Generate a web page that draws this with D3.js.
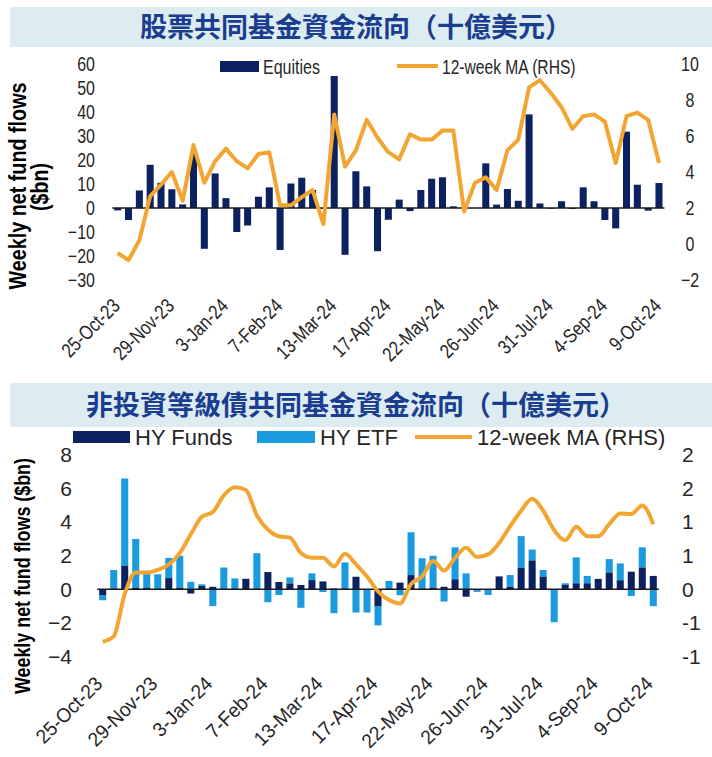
<!DOCTYPE html>
<html><head><meta charset="utf-8">
<script src="https://cdn.jsdelivr.net/npm/d3@7"></script>
<style>body{margin:0;background:#fff}svg{display:block}</style>
</head><body><svg id="c" width="712" height="757"></svg>
<script>
const weeks = ["25-Oct-23","1-Nov-23","8-Nov-23","15-Nov-23","22-Nov-23","29-Nov-23","6-Dec-23","13-Dec-23","20-Dec-23","27-Dec-23",
"3-Jan-24","10-Jan-24","17-Jan-24","24-Jan-24","31-Jan-24","7-Feb-24","14-Feb-24","21-Feb-24","28-Feb-24","6-Mar-24",
"13-Mar-24","20-Mar-24","27-Mar-24","3-Apr-24","10-Apr-24","17-Apr-24","24-Apr-24","1-May-24","8-May-24","15-May-24",
"22-May-24","29-May-24","5-Jun-24","12-Jun-24","19-Jun-24","26-Jun-24","3-Jul-24","10-Jul-24","17-Jul-24","24-Jul-24",
"31-Jul-24","7-Aug-24","14-Aug-24","21-Aug-24","28-Aug-24","4-Sep-24","11-Sep-24","18-Sep-24","25-Sep-24","2-Oct-24","9-Oct-24"];
const tickWeeks = ["25-Oct-23","29-Nov-23","3-Jan-24","7-Feb-24","13-Mar-24","17-Apr-24","22-May-24","26-Jun-24","31-Jul-24","4-Sep-24","9-Oct-24"];

const equities = [-1,-5,7.3,18,10.5,7.8,1.5,22.6,-17,14.4,4.1,-10,-7.3,4.7,8.6,-17.5,10.2,12.6,7.5,-0.3,
55,-19.5,15.3,9,-18,-4.9,3.5,-1.3,7.5,12.2,12.8,0.7,0.2,0,18.6,1.4,7.9,3,39,1.9,
-0.3,2.8,-0.4,8.6,2.8,-5,-8.5,31.8,9.7,-1.1,10.4];
const equitiesMA = [-0.5,-0.9,0.21,2.66,3.3,4.0,2.4,5.5,3.4,4.6,5.3,4.6,4.2,5.0,5.1,2.15,2.15,2.6,3.0,1.1,
7.2,4.3,5.2,6.9,5.9,5.1,4.7,6.1,5.8,5.8,6.3,6.3,1.8,3.4,3.7,3.0,5.2,5.8,8.7,9.1,
8.4,7.6,6.4,7.1,7.2,6.8,4.5,7.1,7.3,6.9,4.5];

const hyFunds = [-0.35,0.05,1.4,0.1,0.1,0,0.67,0.1,-0.25,0.2,0.15,0.05,0.05,0.63,0.05,1.03,0.44,0.35,0.26,0.55,
0.47,0.05,0.05,0.75,0,-1.0,0.05,0.4,0.85,0.05,0.1,0.15,0.6,-0.44,-0.05,0,0.77,0.15,1.27,1.72,
0.75,0,0.26,0.36,0.36,0.62,1.0,0.54,1.05,1.3,0.8];
const hyETF = [-0.3,1.1,5.2,2.9,1.0,0.9,1.2,1.9,0.45,0.1,-1.0,1.25,0.6,0,2.1,-0.77,-0.34,0.36,-1.1,0.4,
-0.16,-1.42,1.55,-1.38,-1.38,-1.15,0.45,-0.35,2.55,1.8,1.9,-0.73,1.9,0.95,-0.1,-0.34,0,0.7,1.9,0.65,
0.4,-1.96,0.1,1.54,0.44,0,0.8,1.0,-0.4,1.2,-1.0];
const hyMA = [-0.78,-0.70,-0.07,0.25,0.25,0.29,0.37,0.54,0.82,1.08,1.15,1.4,1.52,1.48,1.1,0.89,0.79,0.77,0.54,0.47,
0.47,0.34,0.53,0.37,0.19,-0.03,-0.16,-0.21,0.08,0.19,0.42,0.28,0.47,0.62,0.48,0.52,0.69,0.94,1.17,1.35,
1.17,0.88,0.73,0.93,0.79,0.79,0.97,1.13,1.12,1.25,0.97];

const eqLeftTicks = [60,50,40,30,20,10,0,-10,-20,-30];
const eqRightTicks = [10,8,6,4,2,0,-2];
const hyLeftTicks = [8,6,4,2,0,-2,-4];
const hyRightTickValues = [2,1.5,1,0.5,0,-0.5,-1];
const hyRightTickLabels = ["2","2","1","1","0","-1","-1"];

const titleTop = "股票共同基金資金流向（十億美元）";
const titleBottom = "非投資等級債共同基金資金流向（十億美元）";
const yTitle1 = "Weekly net fund flows";
const yTitle2 = "($bn)";
const yTitleBottom = "Weekly net fund flows ($bn)";

const NAVY = "#0b2160", ORANGE = "#f2a530", LIGHT = "#1a9be0", BANNER = "#dcecf1", TITLE = "#1b3d8f", TXT = "#262626";
const NARROW = "'Liberation Sans',Arial,sans-serif";
const SANS = "'Liberation Sans',Arial,sans-serif";

const svg = d3.select("#c");

// squeeze text horizontally to mimic a condensed face
function narrow(sel, k) {
  sel.each(function () {
    const l = this.getComputedTextLength();
    d3.select(this).attr("textLength", l * k).attr("lengthAdjust", "spacingAndGlyphs");
  });
}

// banners
function banner(y, h, text) {
  svg.append("rect").attr("x", 10).attr("y", y).attr("width", 702).attr("height", h).attr("fill", BANNER);
  svg.append("text").attr("x", 356).attr("y", y + h / 2).attr("dy", "0.36em")
    .attr("text-anchor", "middle").attr("font-family", "'Noto Sans CJK TC',sans-serif")
    .attr("font-weight", "bold").attr("font-size", 27).attr("fill", TITLE).text(text);
}
banner(7, 40, titleTop);
banner(383, 44, titleBottom);

// ---------- TOP CHART ----------
const xT = d3.scaleBand().domain(weeks).range([112.3, 664.4]).paddingInner(0.35).paddingOuter(0.175);
const yTL = d3.scaleLinear().domain([-30, 60]).range([280, 64]);
const yTR = d3.scaleLinear().domain([-2, 10]).range([280, 64]);
const gT = svg.append("g");

gT.selectAll("rect.eq").data(equities).join("rect").attr("class", "eq")
  .attr("x", (d, i) => xT(weeks[i])).attr("width", xT.bandwidth())
  .attr("y", d => yTL(Math.max(0, d))).attr("height", d => Math.abs(yTL(d) - yTL(0)))
  .attr("fill", NAVY);
gT.append("line").attr("x1", xT.range()[0]).attr("x2", xT.range()[1])
  .attr("y1", yTL(0)).attr("y2", yTL(0)).attr("stroke", "#1a1a1a").attr("stroke-width", 1.5);
gT.append("path").datum(equitiesMA)
  .attr("d", d3.line().x((d, i) => xT(weeks[i]) + xT.bandwidth() / 2).y(d => yTR(d)))
  .attr("fill", "none").attr("stroke", ORANGE).attr("stroke-width", 4).attr("stroke-linejoin", "round");

const axTL = gT.append("g").attr("transform", "translate(95,0)")
  .call(d3.axisLeft(yTL).tickValues(eqLeftTicks).tickSize(0).tickPadding(0));
const axTR = gT.append("g").attr("transform", "translate(690,0)")
  .call(d3.axisRight(yTR).tickValues(eqRightTicks).tickSize(0).tickPadding(0));
[axTL, axTR].forEach(a => {
  a.select(".domain").remove();
  a.selectAll("text").attr("font-family", NARROW).attr("font-size", 20).attr("fill", TXT);
  narrow(a.selectAll("text"), 0.8);
});
axTR.selectAll("text").attr("text-anchor", "middle");

const xlT = gT.selectAll("text.xl").data(tickWeeks).join("text").attr("class", "xl")
  .attr("transform", d => `translate(${xT(d) + xT.bandwidth() / 2 + 3.5},307) rotate(-45)`)
  .attr("text-anchor", "end").attr("font-family", NARROW).attr("font-size", 20).attr("fill", TXT).text(d => d);
narrow(xlT, 0.82);

// y title
svg.append("text").attr("transform", "translate(26,186) rotate(-90)").attr("text-anchor", "middle")
  .attr("font-family", NARROW).attr("font-weight", "bold").attr("font-size", 23).attr("fill", "#000")
  .attr("textLength", 207).attr("lengthAdjust", "spacingAndGlyphs").text(yTitle1);
const yt2 = svg.append("text").attr("transform", "translate(48,187) rotate(-90)").attr("text-anchor", "middle")
  .attr("font-family", NARROW).attr("font-weight", "bold").attr("font-size", 23).attr("fill", "#000").text(yTitle2);
narrow(yt2, 0.85);

// legend top
svg.append("rect").attr("x", 220).attr("y", 61).attr("width", 39).attr("height", 11).attr("fill", NAVY);
const lt1 = svg.append("text").attr("x", 263).attr("y", 66.5).attr("dy", "0.35em").attr("font-family", NARROW)
  .attr("font-size", 20).attr("fill", TXT).text("Equities");
svg.append("line").attr("x1", 397).attr("x2", 438).attr("y1", 66).attr("y2", 66)
  .attr("stroke", ORANGE).attr("stroke-width", 4);
const lt2 = svg.append("text").attr("x", 442).attr("y", 66.5).attr("dy", "0.35em").attr("font-family", NARROW)
  .attr("font-size", 20).attr("fill", TXT).text("12-week MA (RHS)");
narrow(lt1, 0.8); narrow(lt2, 0.78);

// ---------- BOTTOM CHART ----------
const xB = d3.scaleBand().domain(weeks).range([97.2, 658.8]).paddingInner(0.36).paddingOuter(0.18);
const yBL = d3.scaleLinear().domain([-4, 8]).range([656.5, 455]);
const yBR = d3.scaleLinear().domain([-1, 2]).range([656.5, 455]);
const gB = svg.append("g");

const stacked = weeks.map((w, i) => {
  const f = hyFunds[i], e = hyETF[i];
  const f0 = 0, f1 = f;
  let e0, e1;
  if ((e >= 0 && f >= 0) || (e < 0 && f < 0)) { e0 = f; e1 = f + e; } else { e0 = 0; e1 = e; }
  return { w, f0, f1, e0, e1 };
});
gB.selectAll("rect.etf").data(stacked).join("rect").attr("class", "etf")
  .attr("x", d => xB(d.w)).attr("width", xB.bandwidth())
  .attr("y", d => yBL(Math.max(d.e0, d.e1))).attr("height", d => Math.abs(yBL(d.e0) - yBL(d.e1)))
  .attr("fill", LIGHT);
gB.selectAll("rect.fund").data(stacked).join("rect").attr("class", "fund")
  .attr("x", d => xB(d.w)).attr("width", xB.bandwidth())
  .attr("y", d => yBL(Math.max(d.f0, d.f1))).attr("height", d => Math.abs(yBL(d.f0) - yBL(d.f1)))
  .attr("fill", NAVY);
gB.append("line").attr("x1", xB.range()[0]).attr("x2", xB.range()[1])
  .attr("y1", yBL(0)).attr("y2", yBL(0)).attr("stroke", "#1a1a1a").attr("stroke-width", 1.5);
gB.append("path").datum(hyMA)
  .attr("d", d3.line().x((d, i) => xB(weeks[i]) + xB.bandwidth() / 2).y(d => yBR(d)).curve(d3.curveMonotoneX))
  .attr("fill", "none").attr("stroke", ORANGE).attr("stroke-width", 4).attr("stroke-linejoin", "round");

const axBL = gB.append("g").attr("transform", "translate(72,0)")
  .call(d3.axisLeft(yBL).tickValues(hyLeftTicks).tickSize(0).tickPadding(0));
const axBR = gB.append("g").attr("transform", "translate(682,0)")
  .call(d3.axisRight(yBR).tickValues(hyRightTickValues).tickFormat((d, i) => hyRightTickLabels[i]).tickSize(0).tickPadding(0));
[axBL, axBR].forEach(a => {
  a.select(".domain").remove();
  a.selectAll("text").attr("font-family", SANS).attr("font-size", 21).attr("fill", TXT);
});

const xlB = gB.selectAll("text.xl").data(tickWeeks).join("text").attr("class", "xl")
  .attr("transform", d => `translate(${xB(d) + xB.bandwidth() / 2 + 1},685) rotate(-45)`)
  .attr("text-anchor", "end").attr("font-family", SANS).attr("font-size", 20).attr("fill", TXT).text(d => d);
narrow(xlB, 0.95);

svg.append("text").attr("transform", "translate(30,576) rotate(-90)").attr("text-anchor", "middle")
  .attr("font-family", NARROW).attr("font-weight", "bold").attr("font-size", 22).attr("fill", "#000")
  .attr("textLength", 236).attr("lengthAdjust", "spacingAndGlyphs").text(yTitleBottom);

// legend bottom
svg.append("rect").attr("x", 73).attr("y", 431).attr("width", 57).attr("height", 12).attr("fill", NAVY);
svg.append("text").attr("x", 135).attr("y", 437.5).attr("dy", "0.35em").attr("font-family", SANS)
  .attr("font-size", 22).attr("fill", TXT).text("HY Funds");
svg.append("rect").attr("x", 257).attr("y", 431).attr("width", 58).attr("height", 12).attr("fill", LIGHT);
svg.append("text").attr("x", 320).attr("y", 437.5).attr("dy", "0.35em").attr("font-family", SANS)
  .attr("font-size", 22).attr("fill", TXT).text("HY ETF");
svg.append("line").attr("x1", 415).attr("x2", 472).attr("y1", 437).attr("y2", 437)
  .attr("stroke", ORANGE).attr("stroke-width", 4);
svg.append("text").attr("x", 477).attr("y", 437.5).attr("dy", "0.35em").attr("font-family", SANS)
  .attr("font-size", 22).attr("fill", TXT).text("12-week MA (RHS)");
</script></body></html>
